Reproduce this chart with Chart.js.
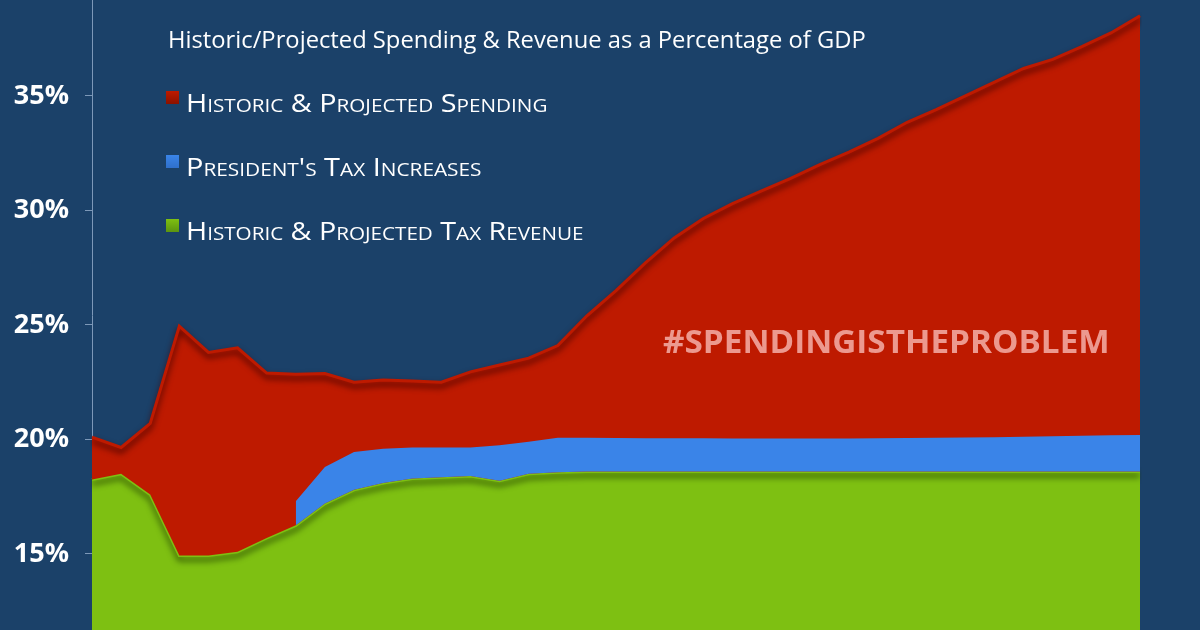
<!DOCTYPE html>
<html>
<head>
<meta charset="utf-8">
<script src="https://cdn.jsdelivr.net/npm/chart.js@4.4.0/dist/chart.umd.min.js"></script>
<style>
  html, body { margin: 0; padding: 0; background: #1b4169; }
  #wrap { position: relative; width: 1200px; height: 630px; overflow: hidden; }
  #title { position: absolute; left: 168px; top: 28px; color: #fff; font: 23px "Open Sans"; line-height: 1; white-space: nowrap; }
  .item { position: absolute; left: 186px; color: #fff; font: 25px "Open Sans"; line-height: 1; font-variant: small-caps; white-space: nowrap; }
  .sw { position: absolute; left: 166px; width: 13px; height: 13px; }
  #tag { position: absolute; left: 663px; top: 324px; color: #ec998f; font: bold 33px "Open Sans"; line-height: 1; white-space: nowrap; }
</style>
</head>
<body>
<div id="wrap">
  <canvas id="chart" width="1200" height="630"></canvas>
  <div id="title">Historic/Projected Spending &amp; Revenue as a Percentage of GDP</div>
  <div id="legend"></div>
  <div id="tag">#SPENDINGISTHEPROBLEM</div>
</div>
<script>
var years = [2006, 2007, 2008, 2009, 2010, 2011, 2012, 2013, 2014, 2015,
  2016, 2017, 2018, 2019, 2020, 2021, 2022, 2023, 2024, 2025,
  2026, 2027, 2028, 2029, 2030, 2031, 2032, 2033, 2034, 2035,
  2036, 2037, 2038, 2039, 2040, 2041, 2042];

// % of GDP
var revenue = [18.25, 18.5, 17.6, 14.93, 14.93, 15.1, 15.7, 16.25, 17.2, 17.8,
  18.1, 18.3, 18.35, 18.4, 18.2, 18.5, 18.57, 18.6, 18.6, 18.6,
  18.6, 18.6, 18.6, 18.6, 18.6, 18.6, 18.6, 18.6, 18.6, 18.6,
  18.6, 18.6, 18.6, 18.6, 18.6, 18.6, 18.6];

var taxIncrease = [null, null, null, null, null, null, null, 1.05, 1.6, 1.65,
  1.5, 1.35, 1.3, 1.25, 1.55, 1.4, 1.51, 1.47, 1.46, 1.45,
  1.45, 1.45, 1.44, 1.44, 1.44, 1.44, 1.44, 1.45, 1.46, 1.47,
  1.49, 1.5, 1.52, 1.54, 1.56, 1.58, 1.6];

var spending = [20.1, 19.65, 20.7, 24.95, 23.8, 24.0, 22.9, 22.85, 22.88, 22.5,
  22.6, 22.55, 22.5, 22.95, 23.25, 23.55, 24.1, 25.4, 26.5, 27.7,
  28.8, 29.65, 30.3, 30.85, 31.4, 32.0, 32.55, 33.15, 33.85, 34.4,
  35.0, 35.6, 36.2, 36.6, 37.15, 37.75, 38.5];

var yTicks = [15, 20, 25, 30, 35];

var seriesNames = ["Historic & Projected Spending", "President's Tax Increases", "Historic & Projected Tax Revenue"];
var seriesColors = ["#be1a00", "#3a84e8", "#7ec012"];

// blue band sits on top of revenue
var taxTop = [];
for (var i = 0; i < revenue.length; i++) {
  taxTop.push(taxIncrease[i] == null ? null : revenue[i] + taxIncrease[i]);
}

//legend
var legend = document.getElementById("legend");
var legendTops = [90, 154, 218];
var swatchShade = ["#8a1200", "#2f70cc", "#5c9410"];
for (var i = 0; i < seriesNames.length; i++) {
  var sw = document.createElement("div");
  sw.className = "sw";
  sw.style.top = (legendTops[i] + 1) + "px";
  sw.style.background = "linear-gradient(" + seriesColors[i] + ", " + swatchShade[i] + ")";
  legend.appendChild(sw);
  var it = document.createElement("div");
  it.className = "item";
  it.style.top = legendTops[i] + "px";
  it.textContent = seriesNames[i];
  legend.appendChild(it);
}

function fitWidth(el, w) {
  el.style.transformOrigin = "0 0";
  el.style.transform = "scaleX(" + (w / el.offsetWidth) + ")";
}
fitWidth(document.getElementById("title"), 698);
var items = document.querySelectorAll(".item");
fitWidth(items[0], 362);
fitWidth(items[1], 296);
fitWidth(items[2], 398);
fitWidth(document.getElementById("tag"), 447);

// dark edge just inside the top of an area
var edgeShadow = {
  id: "edgeShadow",
  beforeDatasetDraw: function(chart, args) {
    var ds = chart.data.datasets[args.index];
    var ctx = chart.ctx;
    ctx.save();
    if (ds.edgeColor) {
      ctx.shadowColor = ds.edgeColor;
      ctx.shadowBlur = 6;
      ctx.shadowOffsetY = 4;
    }
  },
  afterDatasetDraw: function(chart) {
    chart.ctx.restore();
  }
};

var ctx = document.getElementById("chart");
var chart = new Chart(ctx, {
  type: "line",
  data: {
    labels: years,
    datasets: [
      {
        label: seriesNames[2],
        data: revenue,
        backgroundColor: seriesColors[2],
        borderColor: seriesColors[2],
        borderWidth: 3,
        fill: "start",
        order: 2,
        edgeColor: "rgba(35,65,0,1)"
      },
      {
        label: seriesNames[1],
        data: taxTop,
        backgroundColor: seriesColors[1],
        borderColor: seriesColors[1],
        borderWidth: 0,
        fill: "-1",
        order: 0
      },
      {
        label: seriesNames[0],
        data: spending,
        backgroundColor: seriesColors[0],
        borderColor: seriesColors[0],
        borderWidth: 3,
        fill: "-2",
        order: 1,
        edgeColor: "rgba(60,0,0,1)"
      }
    ]
  },
  options: {
    responsive: false,
    animation: false,
    layout: { padding: { left: 0, right: 60, top: 0, bottom: 0 } },
    elements: {
      point: { radius: 0 },
      line: { tension: 0 }
    },
    plugins: {
      legend: { display: false },
      tooltip: { enabled: false }
    },
    scales: {
      x: { display: false },
      y: {
        min: 11.68,
        max: 39.19,
        afterBuildTicks: function(scale) {
          scale.ticks = yTicks.map(function(v) { return { value: v }; });
        },
        afterFit: function(scale) {
          scale.width = 92;
          scale.paddingTop = 0;
          scale.paddingBottom = 0;
        },
        border: { display: true, color: "#7d98b8", width: 1 },
        grid: { drawOnChartArea: false, drawTicks: true, tickLength: 7, color: "#7d98b8" },
        ticks: {
          padding: 16,
          color: "#ffffff",
          font: { family: "Open Sans", weight: "bold", size: 27 },
          callback: function(v) { return v + "%"; }
        }
      }
    }
  },
  plugins: [edgeShadow]
});
</script>
</body>
</html>
